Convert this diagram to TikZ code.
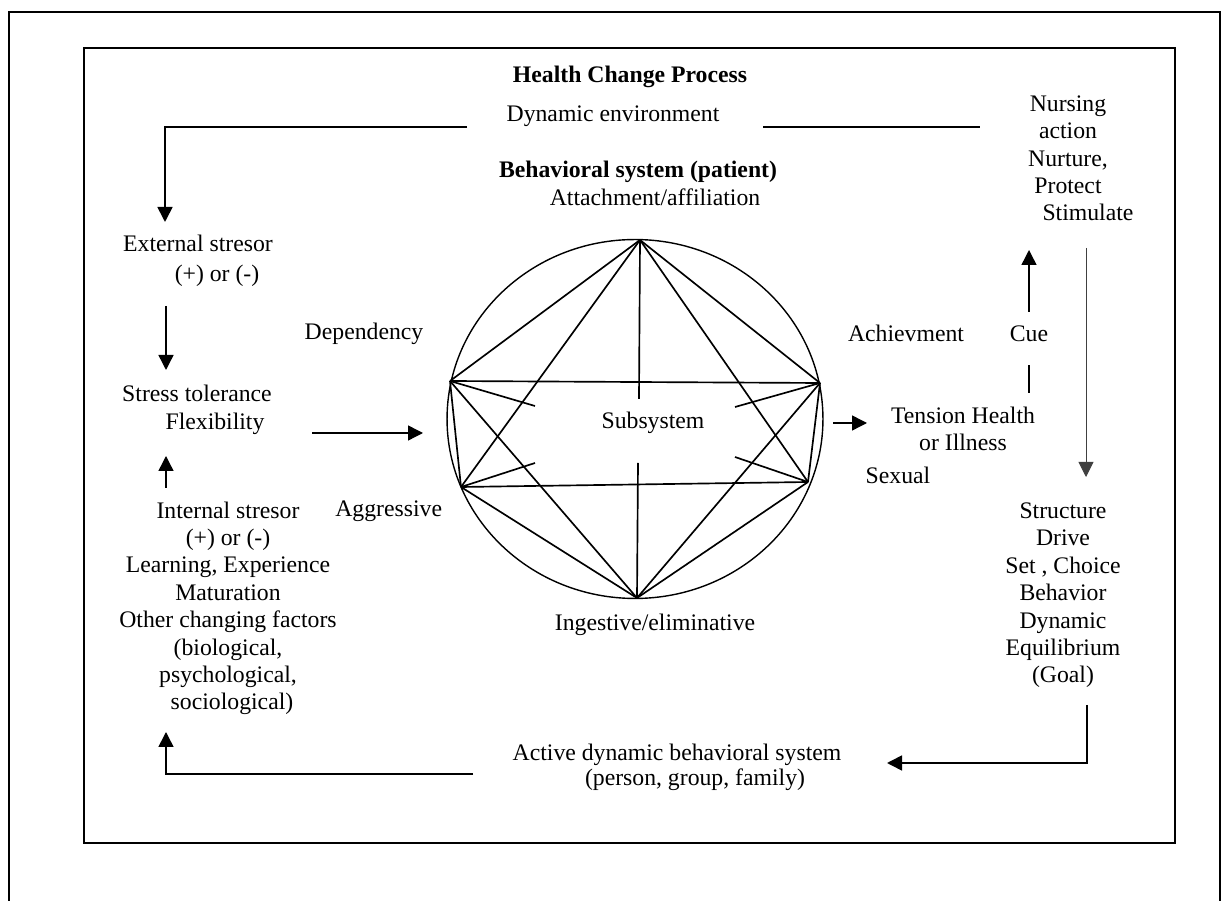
\documentclass[tikz,border=0pt]{standalone}
\usepackage{fontspec}
\setmainfont{Liberation Serif}
\usetikzlibrary{arrows.meta}
\usetikzlibrary{positioning}

\begin{document}
\begin{tikzpicture}[x=0.02cm,y=-0.02cm,
    label/.style={font=\fontsize{13.5}{15.6}\selectfont,inner sep=0pt,align=center,anchor=base},
    frame/.style={line width=1.1pt},
    link/.style={line width=0.9pt},
    flow/.style={line width=0.8pt,-{Triangle[length=0.3cm,width=0.3cm]}},
    spoke/.style={line width=0.95pt}]
    \useasboundingbox (0,0) rectangle (1228,901);
    \draw[frame] (9,12) rectangle (1220,940);
    \draw[frame] (84,48) rectangle (1175,843);

    % texts (multi-line ones sit on their last baseline)
    \begin{scope}[every node/.style={label}]
    \node (title) at (630,83) {\bfseries Health Change Process};
    \node (denv) at (613,122) {Dynamic environment};
    \node (nurse) at (1068,221) {Nursing\\action\\Nurture,\\Protect\\\hspace*{0.8cm}Stimulate};
    \node (bsys) at (638,178) {\bfseries Behavioral system (patient)};
    \node (attach) at (655,206) {Attachment/affiliation};
    \node (ext) at (198,252) {External stresor};
    \node (extsign) at (217,282) {(+) or (-)};
    \node (dep) at (364,340) {Dependency};
    \node (achieve) at (906,342) {Achievment};
    \node (cue) at (1029,342) {Cue};
    \node (stress) at (197,402) {Stress tolerance};
    \node (flex) at (215,430) {Flexibility};
    \node (subsys) at (653,429) {Subsystem};
    \node (tension) at (963,451) {Tension Health\\or Illness};
    \node (internal) at (228,710) {Internal stresor\\(+) or (-)\\Learning, Experience\\Maturation\\Other changing factors\\(biological,\\psychological,\\\hspace*{0.16cm}sociological)};
    \node[anchor=base west] (aggr) at (335,517) {Aggressive};
    \node (sexual) at (898,484) {Sexual};
    \node (struct) at (1063,683) {Structure\\Drive\\Set , Choice\\Behavior\\Dynamic\\Equilibrium\\(Goal)};
    \node (ingest) at (655,631) {Ingestive/eliminative};
    \node (active) at (677,761) {Active dynamic behavioral system};
    \node (group) at (695,786) {(person, group, family)};
    \end{scope}

    % behavioral system
    \draw[line width=0.8pt] (635,419) ellipse [x radius=3.76cm, y radius=3.59cm];
    \coordinate (v-top) at (640,240);
    \coordinate (v-ul) at (450,381);
    \coordinate (v-ur) at (820,383);
    \coordinate (v-ll) at (461,487);
    \coordinate (v-lr) at (808,482);
    \coordinate (v-bot) at (637,598);
    \coordinate (g-top) at (639,399);
    \coordinate (g-bot) at (638,463);
    \coordinate (g-ul) at (535,406);
    \coordinate (g-lr) at (735,457);
    \coordinate (g-ur) at (735,407);
    \coordinate (g-ll) at (535,463);
    \foreach \a/\b in {top/ul,top/ur,top/ll,top/lr,ul/ur,ul/ll,ul/bot,ur/lr,ur/bot,ll/lr,ll/bot,lr/bot}
        \draw[spoke] (v-\a) -- (v-\b);
    \foreach \a in {top,bot,ul,lr,ur,ll}
        \draw[spoke] (v-\a) -- (g-\a);

    % connector ends
    \coordinate (envL) at (467,127);
    \coordinate (envR) at (763,127);
    \coordinate (envE) at (980,127);
    \coordinate (extIn) at (165,222);
    \coordinate (extOut) at (166,306);
    \coordinate (stressIn) at (166,370);
    \coordinate (intOut) at (166,488);
    \coordinate (stressLow) at (166,456);
    \coordinate (stressOut) at (312,433);
    \coordinate (sysIn) at (423,433);
    \coordinate (sysOut) at (833,423);
    \coordinate (tenIn) at (867,423);
    \coordinate (tenOut) at (1029,393);
    \coordinate (cueIn) at (1029,365);
    \coordinate (cueOut) at (1029,312);
    \coordinate (nurseIn) at (1029,250);
    \coordinate (nurseOut) at (1086,248);
    \coordinate (structIn) at (1086,477);
    \coordinate (structOut) at (1087,705);
    \coordinate (activeIn) at (887,763);
    \coordinate (activeOut) at (473,774);
    \coordinate (internalIn) at (166,732);

    \draw[flow,line width=0.95pt] (envL) -| (extIn);
    \draw[link] (envR) -- (envE);
    \draw[flow] (extOut) -- (stressIn);
    \draw[flow] (intOut) -- (stressLow);
    \draw[flow] (stressOut) -- (sysIn);
    \draw[flow] (sysOut) -- (tenIn);
    \draw[link] (tenOut) -- (cueIn);
    \draw[flow] (cueOut) -- (nurseIn);
    \draw[flow,line width=0.5pt,black!75] (nurseOut) -- (structIn);
    \draw[flow,line width=0.9pt] (structOut) |- (activeIn);
    \draw[flow,line width=0.9pt] (activeOut) -| (internalIn);
\end{tikzpicture}
\end{document}
